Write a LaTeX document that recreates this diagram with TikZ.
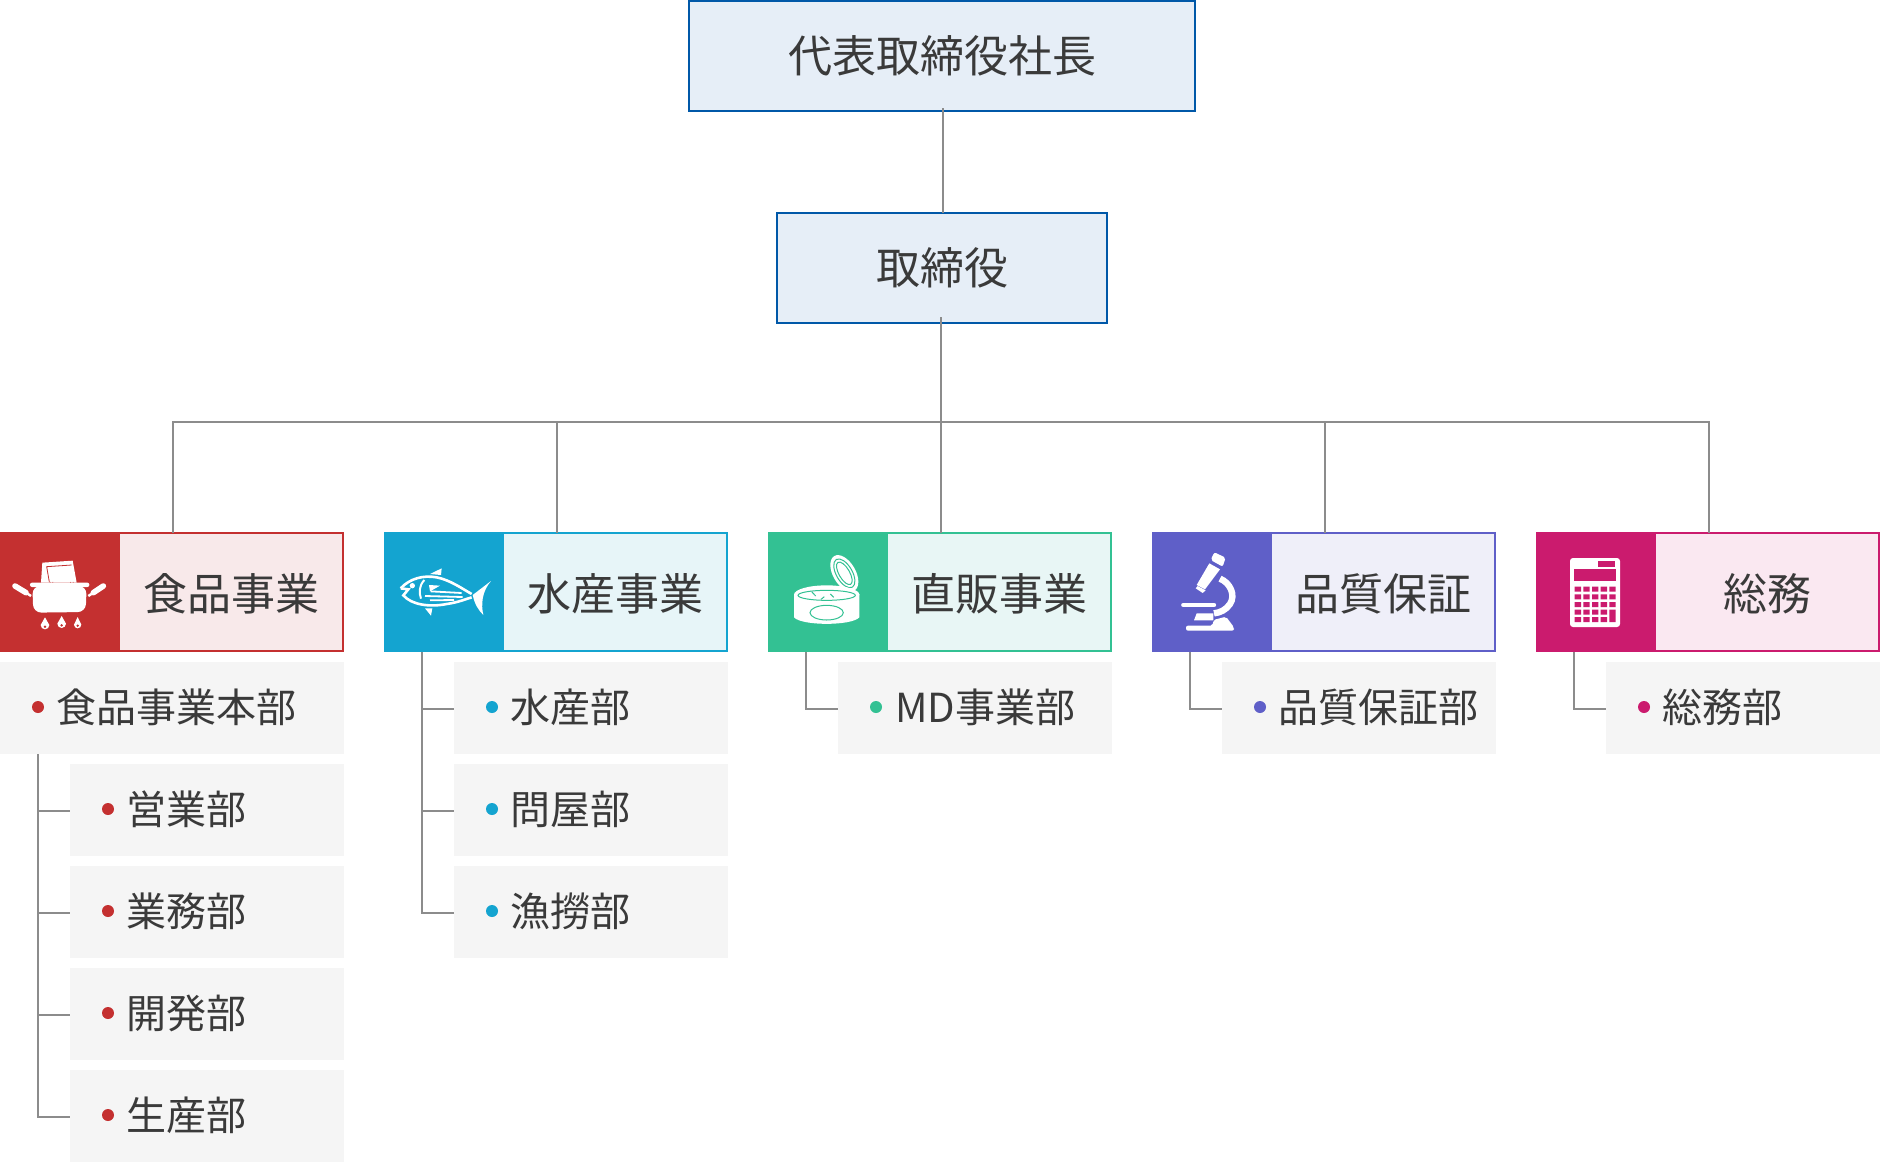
\documentclass[tikz,border=0pt]{standalone}
\usepackage{fontspec}
\setmainfont{Noto Sans CJK JP}
\usetikzlibrary{positioning, shapes}

\definecolor{topblue}{HTML}{0058A8}
\definecolor{toplight}{HTML}{E6EEF7}
\definecolor{foodred}{HTML}{C43030}
\definecolor{foodlight}{HTML}{F8E9EA}
\definecolor{fishblue}{HTML}{14A4D0}
\definecolor{fishlight}{HTML}{E7F5F8}
\definecolor{salegreen}{HTML}{33C193}
\definecolor{salelight}{HTML}{E8F6F5}
\definecolor{qualpurple}{HTML}{5F5FC8}
\definecolor{quallight}{HTML}{EFEFF9}
\definecolor{adminpink}{HTML}{CB1B6E}
\definecolor{adminlight}{HTML}{FAE8F1}
\definecolor{subgray}{HTML}{F5F5F5}
\definecolor{linegray}{HTML}{8C8C8C}
\definecolor{inkgray}{HTML}{3A3A3A}

\begin{document}
\begin{tikzpicture}[x=0.5pt, y=-0.5pt, text=inkgray]
    \tikzstyle{conn} = [draw=linegray, line width=1pt]
    \tikzstyle{headbox} = [rectangle, draw=topblue, fill=toplight, line width=1pt, outer sep=0pt, inner sep=0pt, minimum height=55pt, text height=19.4pt, text depth=2.6pt, font=\fontsize{22pt}{26pt}\selectfont]
    \tikzstyle{catbox} = [rectangle, line width=1pt, outer sep=0pt, inner sep=0pt, minimum width=112pt, minimum height=59pt, text height=21.4pt, text depth=2.6pt, font=\fontsize{22pt}{26pt}\selectfont]
    \tikzstyle{iconbox} = [rectangle, draw=none, outer sep=0pt, inner sep=0pt, minimum width=60pt, minimum height=60pt]
    \tikzstyle{subbox} = [rectangle, draw=none, fill=subgray, outer sep=0pt, inner sep=0pt, minimum width=137pt, minimum height=46pt]
    \tikzstyle{subdot} = [circle, draw=none, inner sep=0pt, minimum size=6pt]
    \tikzstyle{subtext} = [anchor=west, inner sep=0pt, text height=17.6pt, text depth=2.4pt, font=\fontsize{20pt}{24pt}\selectfont]
    \useasboundingbox (0,0) rectangle (1880,1162);

    % connectors first
    \coordinate (drop1) at (173,422);
    \coordinate (drop2) at (557,422);
    \coordinate (drop3) at (941,422);
    \coordinate (drop4) at (1325,422);
    \coordinate (drop5) at (1709,422);
    \coordinate (foodroot) at (38,754);
    \coordinate (fishroot) at (422,652);
    \coordinate (saleroot) at (806,652);
    \coordinate (qualroot) at (1190,652);
    \coordinate (adminroot) at (1574,652);

    % top of the chart
    \node[headbox, minimum width=253pt] (president) at (942,56) {代表取締役社長};
    \node[headbox, minimum width=165pt] (director) at (942,268) {取締役};

    % five divisions
    \node[catbox, draw=foodred, fill=foodlight] (food) at (231,592) {食品事業};
    \node[iconbox, fill=foodred] (foodicon) at (60,592) {};
    \node[catbox, draw=fishblue, fill=fishlight] (fish) at (615,592) {水産事業};
    \node[iconbox, fill=fishblue] (fishicon) at (444,592) {};
    \node[catbox, draw=salegreen, fill=salelight] (sale) at (999,592) {直販事業};
    \node[iconbox, fill=salegreen] (saleicon) at (828,592) {};
    \node[catbox, draw=qualpurple, fill=quallight] (qual) at (1383,592) {品質保証};
    \node[iconbox, fill=qualpurple] (qualicon) at (1212,592) {};
    \node[catbox, draw=adminpink, fill=adminlight] (admin) at (1767,592) {総務};
    \node[iconbox, fill=adminpink] (adminicon) at (1596,592) {};

    % food departments
    \node[subbox, minimum width=172pt] (foodhq) at (172,708) {};
    \node[subdot, fill=foodred] (foodhqdot) at (38,707) {};
    \node[subtext] (foodhqtext) at (56,707) {食品事業本部};
    \node[subbox] (sales) at (207,810) {};
    \node[subdot, fill=foodred] (salesdot) at (108,809) {};
    \node[subtext] (salestext) at (126,809) {営業部};
    \node[subbox] (office) at (207,912) {};
    \node[subdot, fill=foodred] (officedot) at (108,911) {};
    \node[subtext] (officetext) at (126,911) {業務部};
    \node[subbox] (devel) at (207,1014) {};
    \node[subdot, fill=foodred] (develdot) at (108,1013) {};
    \node[subtext] (develtext) at (126,1013) {開発部};
    \node[subbox] (prod) at (207,1116) {};
    \node[subdot, fill=foodred] (proddot) at (108,1115) {};
    \node[subtext] (prodtext) at (126,1115) {生産部};

    % fish departments
    \node[subbox] (marine) at (591,708) {};
    \node[subdot, fill=fishblue] (marinedot) at (492,707) {};
    \node[subtext] (marinetext) at (510,707) {水産部};
    \node[subbox] (whole) at (591,810) {};
    \node[subdot, fill=fishblue] (wholedot) at (492,809) {};
    \node[subtext] (wholetext) at (510,809) {問屋部};
    \node[subbox] (catch) at (591,912) {};
    \node[subdot, fill=fishblue] (catchdot) at (492,911) {};
    \node[subtext] (catchtext) at (510,911) {漁撈部};

    % one department each
    \node[subbox] (md) at (975,708) {};
    \node[subdot, fill=salegreen] (mddot) at (876,707) {};
    \node[subtext] (mdtext) at (895,707) {MD事業部};
    \node[subbox] (assure) at (1359,708) {};
    \node[subdot, fill=qualpurple] (assuredot) at (1260,707) {};
    \node[subtext] (assuretext) at (1278,707) {品質保証部};
    \node[subbox] (general) at (1743,708) {};
    \node[subdot, fill=adminpink] (generaldot) at (1644,707) {};
    \node[subtext] (generaltext) at (1662,707) {総務部};

    % lines
    \draw[conn] ([shift={(.5pt,1.5pt)}]president.south) -- ([xshift=.5pt]director.north);
    \draw[conn] ([shift={(-.5pt,3pt)}]director.south) -- (drop3);
    \draw[conn] (drop1 |- food.north) -- (drop1) -- (drop5) -- (drop5 |- admin.north);
    \draw[conn] (drop2) -- (drop2 |- fish.north);
    \draw[conn] (drop3) -- (drop3 |- sale.north);
    \draw[conn] (drop4) -- (drop4 |- qual.north);
    \draw[conn] (foodroot) |- ([yshift=-.5pt]sales.west);
    \draw[conn] (foodroot) |- ([yshift=-.5pt]office.west);
    \draw[conn] (foodroot) |- ([yshift=-.5pt]devel.west);
    \draw[conn] (foodroot) |- ([yshift=-.5pt]prod.west);
    \draw[conn] (fishroot) |- ([yshift=-.5pt]marine.west);
    \draw[conn] (fishroot) |- ([yshift=-.5pt]whole.west);
    \draw[conn] (fishroot) |- ([yshift=-.5pt]catch.west);
    \draw[conn] (saleroot) |- ([yshift=-.5pt]md.west);
    \draw[conn] (qualroot) |- ([yshift=-.5pt]assure.west);
    \draw[conn] (adminroot) |- ([yshift=-.5pt]general.west);

    % pot on a burner
    \begin{scope}[shift={(0,520)}, scale=1/3]
        \fill[white] (127,128) -- (218,122) -- (230,188) -- (123,188) -- cycle;
        \draw[foodred, line width=.4pt] (148,186) -- (140,140) -- (215,135);
        \draw[foodred, line width=.4pt] (150,186) arc[start angle=180, end angle=0, x radius=35, y radius=36];
        \draw[foodred, line width=.4pt] (158,186) arc[start angle=180, end angle=0, x radius=27, y radius=26];
        \fill[white, rounded corners=1pt] (90,188) rectangle (268,201);
        \fill[white, rounded corners=4pt] (97,198) -- (260,198) -- (257,276) -- (100,278) -- cycle;
        \draw[white, line width=2.8pt, line cap=round] (45,198) -- (78,218);
        \draw[white, line width=1.2pt] (78,218) -- (93,228);
        \draw[white, line width=2.8pt, line cap=round] (310,198) -- (280,218);
        \draw[white, line width=1.2pt] (280,218) -- (265,228);
        \fill[white] (135,292) -- (122,315) arc[start angle=180, end angle=0, radius=13] -- cycle;
        \fill[white] (185,288) -- (172,311) arc[start angle=180, end angle=0, radius=13] -- cycle;
        \fill[white] (233,291) -- (222,314) arc[start angle=180, end angle=0, radius=11] -- cycle;
        \fill[foodred] (135,320) circle [radius=4];
        \fill[foodred] (185,316) circle [radius=4];
        \fill[foodred] (233,317) circle [radius=4];
    \end{scope}

    % tuna
    \begin{scope}[shift={(380,520)}, scale=1/3]
        \draw[white, line width=1.3pt] (62,205) .. controls (90,175) and (130,165) .. (170,172) .. controls (210,180) and (245,205) .. (275,222);
        \draw[white, line width=1.3pt] (62,205) -- (85,208) -- (70,226) .. controls (95,255) and (150,262) .. (200,252) .. controls (235,247) and (255,238) .. (275,232);
        \fill[white] (97,197) circle [radius=8];
        \draw[white, line width=1pt] (133,180) .. controls (115,200) and (118,220) .. (123,236);
        \fill[white] (147,195) -- (180,197) -- (150,214) -- cycle;
        \draw[white, line width=.9pt] (152,214) -- (245,219);
        \draw[white, line width=.9pt] (135,228) -- (248,231);
        \draw[white, line width=.9pt] (150,241) -- (222,240);
        \fill[white] (150,162) -- (185,145) -- (183,165) -- cycle;
        \fill[white] (135,265) -- (157,265) -- (153,287) -- cycle;
        \fill[white] (278,225) -- (333,183) .. controls (305,215) and (303,255) .. (310,285) .. controls (295,270) and (285,255) .. (278,225) -- cycle;
    \end{scope}

    % opened can
    \begin{scope}[shift={(765,520)}, scale=1/3]
        \fill[white] (238,160) ellipse [x radius=34, y radius=60, rotate=30];
        \draw[salegreen, line width=.5pt] (238,160) ellipse [x radius=24, y radius=48, rotate=30];
        \draw[salegreen, line width=.5pt] (238,160) ellipse [x radius=16, y radius=38, rotate=30];
        \fill[white] (87,222) -- (87,292) .. controls (110,318) and (260,318) .. (283,292) -- (283,222) -- cycle;
        \fill[white] (185,224) ellipse [x radius=98, y radius=28];
        \draw[salegreen, line width=.5pt] (185,226) ellipse [x radius=86, y radius=15];
        \draw[salegreen, line width=.5pt] (140,215) -- (152,228);
        \draw[salegreen, line width=.5pt] (178,230) -- (168,238);
        \draw[salegreen, line width=.5pt] (196,222) -- (206,232);
        \draw[salegreen, line width=.5pt] (185,278) ellipse [x radius=50, y radius=22];
    \end{scope}

    % microscope
    \begin{scope}[shift={(1150,520)}, scale=1/3]
        \fill[white, rounded corners=1pt] (193,97) -- (227,113) -- (218,140) -- (182,120) -- cycle;
        \fill[white] (178,130) -- (210,148) -- (165,208) -- (140,195) -- cycle;
        \fill[white] (137,205) -- (143,198) -- (167,211) -- (158,219) -- cycle;
        \draw[white, line width=3.2pt] (210,176) .. controls (240,188) and (258,225) .. (240,252) .. controls (228,270) and (210,278) .. (192,280);
        \draw[white, line width=2.2pt, line cap=round] (100,255) -- (192,255);
        \fill[white] (140,280) -- (190,280) -- (190,301) -- (132,301) -- cycle;
        \fill[white, rounded corners=1pt] (108,317) -- (188,317) -- (190,300) -- (228,290) -- (252,322) -- (252,332) -- (108,332) -- cycle;
    \end{scope}

    % calculator
    \begin{scope}[shift={(1530,520)}, scale=1/3]
        \fill[white, rounded corners=1.5pt] (120,114) rectangle (270,321);
        \fill[adminpink] (205,123) rectangle (255,142);
        \fill[adminpink] (132,148) rectangle (258,183);
        \fill[adminpink] (134,200) rectangle (153,215) (160,200) rectangle (179,215) (186,200) rectangle (205,215) (212,200) rectangle (231,215) (238,200) rectangle (257,215);
        \fill[adminpink] (134,223) rectangle (153,238) (160,223) rectangle (179,238) (186,223) rectangle (205,238) (212,223) rectangle (231,238) (238,223) rectangle (257,238);
        \fill[adminpink] (134,246) rectangle (153,261) (160,246) rectangle (179,261) (186,246) rectangle (205,261) (212,246) rectangle (231,261) (238,246) rectangle (257,261);
        \fill[adminpink] (134,269) rectangle (153,284) (160,269) rectangle (179,284) (186,269) rectangle (205,284) (212,269) rectangle (231,284) (238,269) rectangle (257,306);
        \fill[adminpink] (134,291) rectangle (153,306) (160,291) rectangle (179,306) (186,291) rectangle (205,306) (212,291) rectangle (231,306);
    \end{scope}
\end{tikzpicture}
\end{document}
